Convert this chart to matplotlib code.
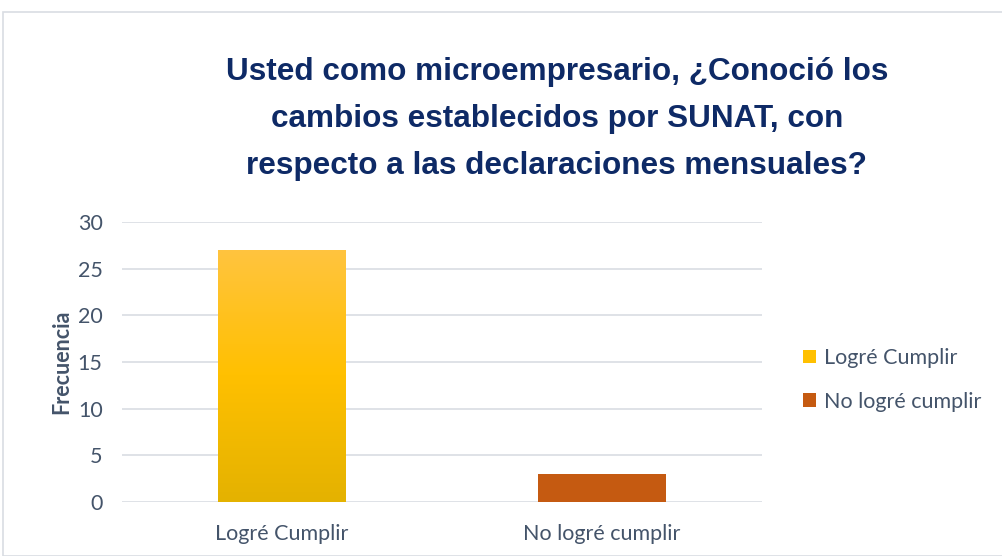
import numpy as np
import matplotlib
matplotlib.use('Agg')
import matplotlib.pyplot as plt
from matplotlib.patches import Rectangle, Patch
from matplotlib.colors import LinearSegmentedColormap

categorias = ['Logré Cumplir', 'No logré cumplir']
frecuencia = [27, 3]
yticks = [0, 5, 10, 15, 20, 25, 30]
titulo = 'Usted como microempresario, ¿Conoció los\ncambios establecidos por SUNAT, con\nrespecto a las declaraciones mensuales?'

texto_col = '#44546A'
W, H = 1003, 556
fig = plt.figure(figsize=(W / 100, H / 100), dpi=100)
fig.patches.append(Rectangle((3 / W, 0), 1.2, 1 - 12 / H, transform=fig.transFigure,
                             fill=False, edgecolor='#D9DDE3', linewidth=1.2))

ax = fig.add_axes([122 / W, 1 - 502 / H, 640 / W, 280 / H])
x = np.arange(len(categorias))
barras = ax.bar(x, frecuencia, width=0.4, color=['#FFC000', '#C55A11'], zorder=2)

# degradado vertical en la primera barra
grad = LinearSegmentedColormap.from_list('g', ['#E4B200', '#FFC000', '#FFC43F'])
b = barras[0]
bx, by, bw, bh = b.get_x(), b.get_y(), b.get_width(), b.get_height()
img = ax.imshow(np.linspace(0, 1, 256).reshape(-1, 1), cmap=grad, origin='lower',
                extent=[bx, bx + bw, by, by + bh], aspect='auto', zorder=3)
img.set_clip_path(b)

ax.set_xlim(-0.5, 1.5)
ax.set_ylim(0, 30)
ax.set_yticks(yticks)
ax.set_xticks(x)
ax.set_xticklabels(categorias)
ax.grid(axis='y', color='#D9DDE3', linewidth=1.2, zorder=0)
ax.set_axisbelow(True)
for s in ax.spines.values():
    s.set_visible(False)
ax.tick_params(length=0, labelsize=15.5, colors=texto_col, pad=14)
ax.tick_params(axis='x', pad=16)
for t in ax.get_xticklabels() + ax.get_yticklabels():
    t.set_family('Lato')
ax.set_ylabel('Frecuencia', fontsize=15.5, fontweight='bold', color=texto_col,
              family='Lato', labelpad=4)

fig.text(557 / W, 1 - 119 / H, titulo, ha='center', va='center', fontsize=22.7,
         fontweight='bold', color='#0E2A66', family='Liberation Sans', linespacing=1.75)

handles = [Patch(facecolor='#FFC000', edgecolor='none'), Patch(facecolor='#C55A11', edgecolor='none')]
leg = fig.legend(handles, categorias, loc='center left', bbox_to_anchor=(784 / W, 1 - 380 / H),
                 frameon=False, fontsize=15.5, handlelength=0.6, handleheight=0.6,
                 handletextpad=0.35, labelspacing=1.1)
for t in leg.get_texts():
    t.set_color(texto_col)
    t.set_family('Lato')

fig.savefig('out.png', dpi=100)
